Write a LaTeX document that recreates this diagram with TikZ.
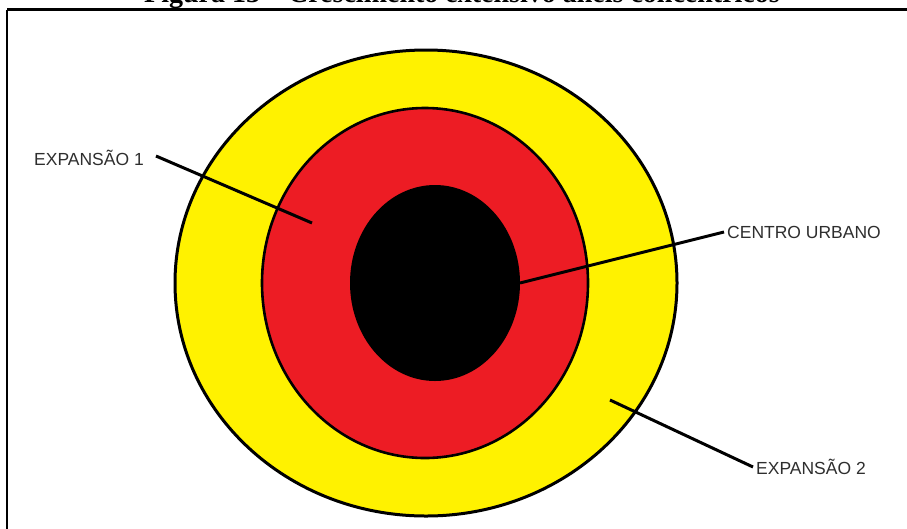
\documentclass[tikz,border=0pt]{standalone}
\usepackage{fontspec}
\setmainfont{Liberation Serif}
\newfontfamily\labelfont{Liberation Sans}
\usepackage{xcolor}
\usepackage{tikz}
\definecolor{ringyellow}{HTML}{FFF200}
\definecolor{ringred}{HTML}{ED1C24}
\definecolor{labelgray}{HTML}{2E2E2E}

\begin{document}
\begin{tikzpicture}[x=1pt, y=-1pt,
    every node/.style={inner sep=0pt},
    ringlabel/.style={font=\labelfont\fontsize{17.5}{17.5}\selectfont, text=labelgray},
    leader/.style={black, line width=3pt}]
    \useasboundingbox (0, 0) rectangle (907, 528);
    \clip (0, 0) rectangle (907, 528);

    % Title (cut off at the top)
    \node[anchor=base, font=\bfseries\fontsize{28}{28}\selectfont] (title) at (462, 2)
    {Figura 13 -- Crescimento extensivo anéis concêntricos};

    % Frame
    \draw[black, line width=2.8pt] (7, 9.7) -- (910, 9.7);
    \draw[black, line width=2.2pt] (7, 9.7) -- (7, 530);

    % Rings
    \draw[fill=ringyellow, draw=black, line width=3pt]
    (426, 283) ellipse [x radius=251, y radius=233];
    \draw[fill=ringred, draw=black, line width=2.6pt]
    (425, 283) ellipse [x radius=163, y radius=175];
    \fill[black] (435, 283) ellipse [x radius=85, y radius=98];

    % Leader ends on the rings
    \coordinate (exp1_end) at (312, 223);
    \coordinate (centro_end) at (520, 283);
    \coordinate (exp2_end) at (610, 400);

    % Labels
    \node[ringlabel, anchor=west] (exp1) at (34, 158) {EXPANSÃO 1};
    \node[ringlabel, anchor=west] (centro) at (727, 232) {CENTRO URBANO};
    \node[ringlabel, anchor=west] (exp2) at (756, 467) {EXPANSÃO 2};

    % Leaders
    \draw[leader] ([xshift=12pt, yshift=2pt]exp1.east) -- (exp1_end);
    \draw[leader] (centro_end) -- ([xshift=-3pt]centro.west);
    \draw[leader] (exp2_end) -- ([xshift=-3pt]exp2.west);
\end{tikzpicture}
\end{document}
